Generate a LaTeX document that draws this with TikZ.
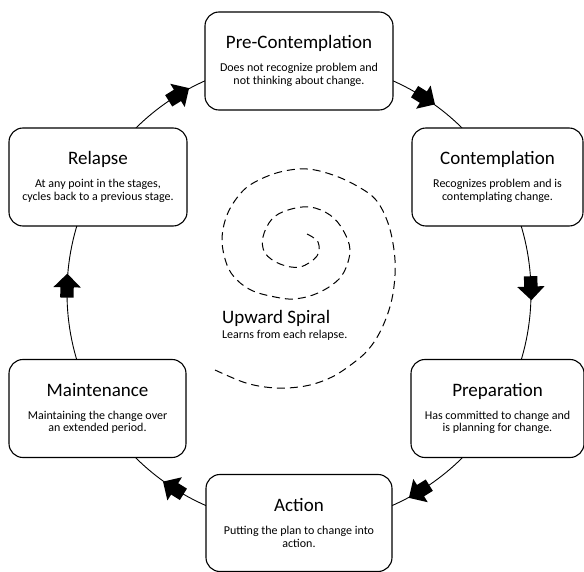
\documentclass[tikz,border=0pt]{standalone}
\usepackage{fontspec}
\setmainfont{Carlito}
\usetikzlibrary{shapes.arrows}

\newcommand{\stagetitle}[1]{{\fontsize{19}{12.6}\selectfont #1}}

\begin{document}
\begin{tikzpicture}[
  x=1pt, y=1pt,
  font=\fontsize{12}{12.6}\selectfont,
  stage/.style={draw, line width=1.1pt, rounded corners=14pt, fill=white, align=center, minimum height=98pt, inner sep=2pt},
  ring/.style={line width=0.9pt},
  blk/.style={single arrow, fill=black, draw=none, inner xsep=0pt, inner ysep=6.5pt, minimum height=24pt, single arrow head extend=7pt},
  spiral/.style={line width=1pt, dash pattern=on 8pt off 5pt}]
\useasboundingbox (0,0) rectangle (584,-572);
\coordinate (ctr) at (299,-293);
\draw[ring] (ctr) circle[radius=232];
% the six stages
\node[stage, minimum width=188pt] (pre) at (299,-61) {\stagetitle{Pre-Contemplation}\\[10.4pt]Does not recognize problem and\\not thinking about change.};
\node[stage, minimum width=171pt] (con) at (497.5,-177) {\stagetitle{Contemplation}\\[10.4pt]Recognizes problem and is\\contemplating change.};
\node[stage, minimum width=173pt] (prp) at (497.5,-408.5) {\stagetitle{Preparation}\\[10.4pt]Has committed to change and\\is planning for change.};
\node[stage, minimum width=186pt, minimum height=97pt] (act) at (299,-523) {\stagetitle{Action}\\[10.4pt]Putting the plan to change into\\action.};
\node[stage, minimum width=177pt] (mai) at (97.5,-408.5) {\stagetitle{Maintenance}\\[10.4pt]Maintaining the change over\\an extended period.};
\node[stage, minimum width=178pt] (rel) at (98,-177) {\stagetitle{Relapse}\\[10.4pt]At any point in the stages,\\cycles back to a previous stage.};
% arrows on the ring
\node[blk, rotate=32] (a1) at ([shift={(122:232)}]ctr) {};
\node[blk, rotate=-32] (a2) at ([shift={(58:232)}]ctr) {};
\node[blk, rotate=-88] (a3) at ([shift={(2:232)}]ctr) {};
\node[blk, rotate=-148] (a4) at ([shift={(-58:232)}]ctr) {};
\node[blk, rotate=148] (a5) at ([shift={(-122:232)}]ctr) {};
\node[blk, rotate=89] (a6) at ([shift={(179:232)}]ctr) {};
% spiral in the middle
\draw[spiral] plot[smooth, tension=0.6] coordinates {(307,-234) (318,-242) (317,-256) (300,-267) (280,-264) (265,-253) (263,-237) (272,-219) (288,-210) (310,-207) (330,-215) (343,-230) (350,-250) (344,-272) (332,-285) (313,-295) (293,-299) (275,-297) (253,-291) (237,-280) (227,-265) (222,-240) (227,-215) (240,-194) (255,-182) (280,-172) (307,-169) (333,-175) (357,-186) (376,-200) (388,-223) (394,-250) (395,-275) (391,-303) (381,-330) (368,-350) (352,-364) (332,-377) (310,-385) (287,-388) (265,-387) (243,-382) (215,-370)};
\node[align=left, inner sep=0pt, anchor=west] (up) at (222,-325) {\stagetitle{Upward Spiral}\\[2.4pt]Learns from each relapse.};
\end{tikzpicture}
\end{document}
